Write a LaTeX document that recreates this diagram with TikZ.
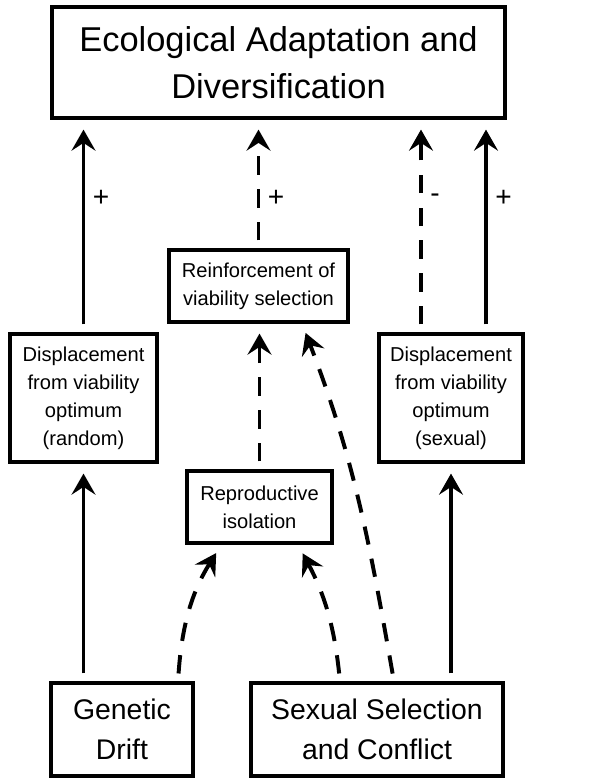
\documentclass[tikz,border=0pt]{standalone}
\usepackage{fontspec}
\setmainfont{Liberation Sans}
\usetikzlibrary{arrows.meta,calc}

\begin{document}
\begin{tikzpicture}[x=0.025cm,y=-0.025cm,->,>={Stealth[length=15pt,width=17pt,inset=5.5pt]},line width=2.8pt,
box/.style={draw,line width=2.2pt,align=center,inner sep=0pt,-},
big/.style={font=\fontsize{24.5}{33.3}\selectfont},
mid/.style={font=\fontsize{20.2}{28.4}\selectfont},
small/.style={font=\fontsize{14.3}{19.9}\selectfont},
sign/.style={font=\fontsize{20}{24}\selectfont,right,pos=.63,xshift=2pt},
dashline/.style={dash pattern=on 0.46cm off 0.36cm},
gap/.style={shorten <=0.2cm,shorten >=0.25cm}]

\useasboundingbox (0,0) rectangle (601,778);

\node[box,big,minimum width=453*0.025cm,minimum height=111*0.025cm](eco) at (278.5,62.5){Ecological Adaptation and\\Diversification};
\node[box,small,minimum width=179*0.025cm,minimum height=72*0.025cm](reinf) at (258.5,286){Reinforcement of\\viability selection};
\node[box,small,minimum width=147*0.025cm,minimum height=128*0.025cm](disl) at (83.5,398){Displacement\\from viability\\optimum\\(random)};
\node[box,small,minimum width=144*0.025cm,minimum height=128*0.025cm](disr) at (451,398){Displacement\\from viability\\optimum\\(sexual)};
\node[box,small,minimum width=145*0.025cm,minimum height=72*0.025cm](repro) at (259.5,507){Reproductive\\isolation};
\node[box,mid,minimum width=142*0.025cm,minimum height=93*0.025cm](drift) at (122,729.5){Genetic\\Drift};
\node[box,mid,minimum width=252*0.025cm,minimum height=93*0.025cm](sexsel) at (377,729.5){Sexual Selection\\and Conflict};

\coordinate(minus) at ($(disr.north)+(-30,0)$);
\coordinate(plus) at ($(disr.north)+(35,0)$);

\path[gap] (drift.north -| disl.south) edge (disl.south)
(sexsel.north -| disr.south) edge (disr.south)
(disl.north) edge node[sign]{+} (disl.north |- eco.south)
(reinf.north) edge[dashline] node[sign,pos=.39]{+} (reinf.north |- eco.south)
(minus) edge[dashline] node[sign]{-} (minus |- eco.south)
(plus) edge node[sign]{+} (plus |- eco.south)
(repro.north) edge[dashline] (repro.north |- reinf.south)
($(drift.north)+(56,0)$) edge[dashline,out=86,in=-122] ($(repro.south)+(-38,0)$)
($(sexsel.north)+(-37,0)$) edge[dashline,out=96,in=-62] ($(repro.south)+(38.5,0)$)
($(sexsel.north)+(17,0)$) edge[dashline,out=100,in=-69] ($(reinf.south)+(43.5,0)$);

\end{tikzpicture}
\end{document}
